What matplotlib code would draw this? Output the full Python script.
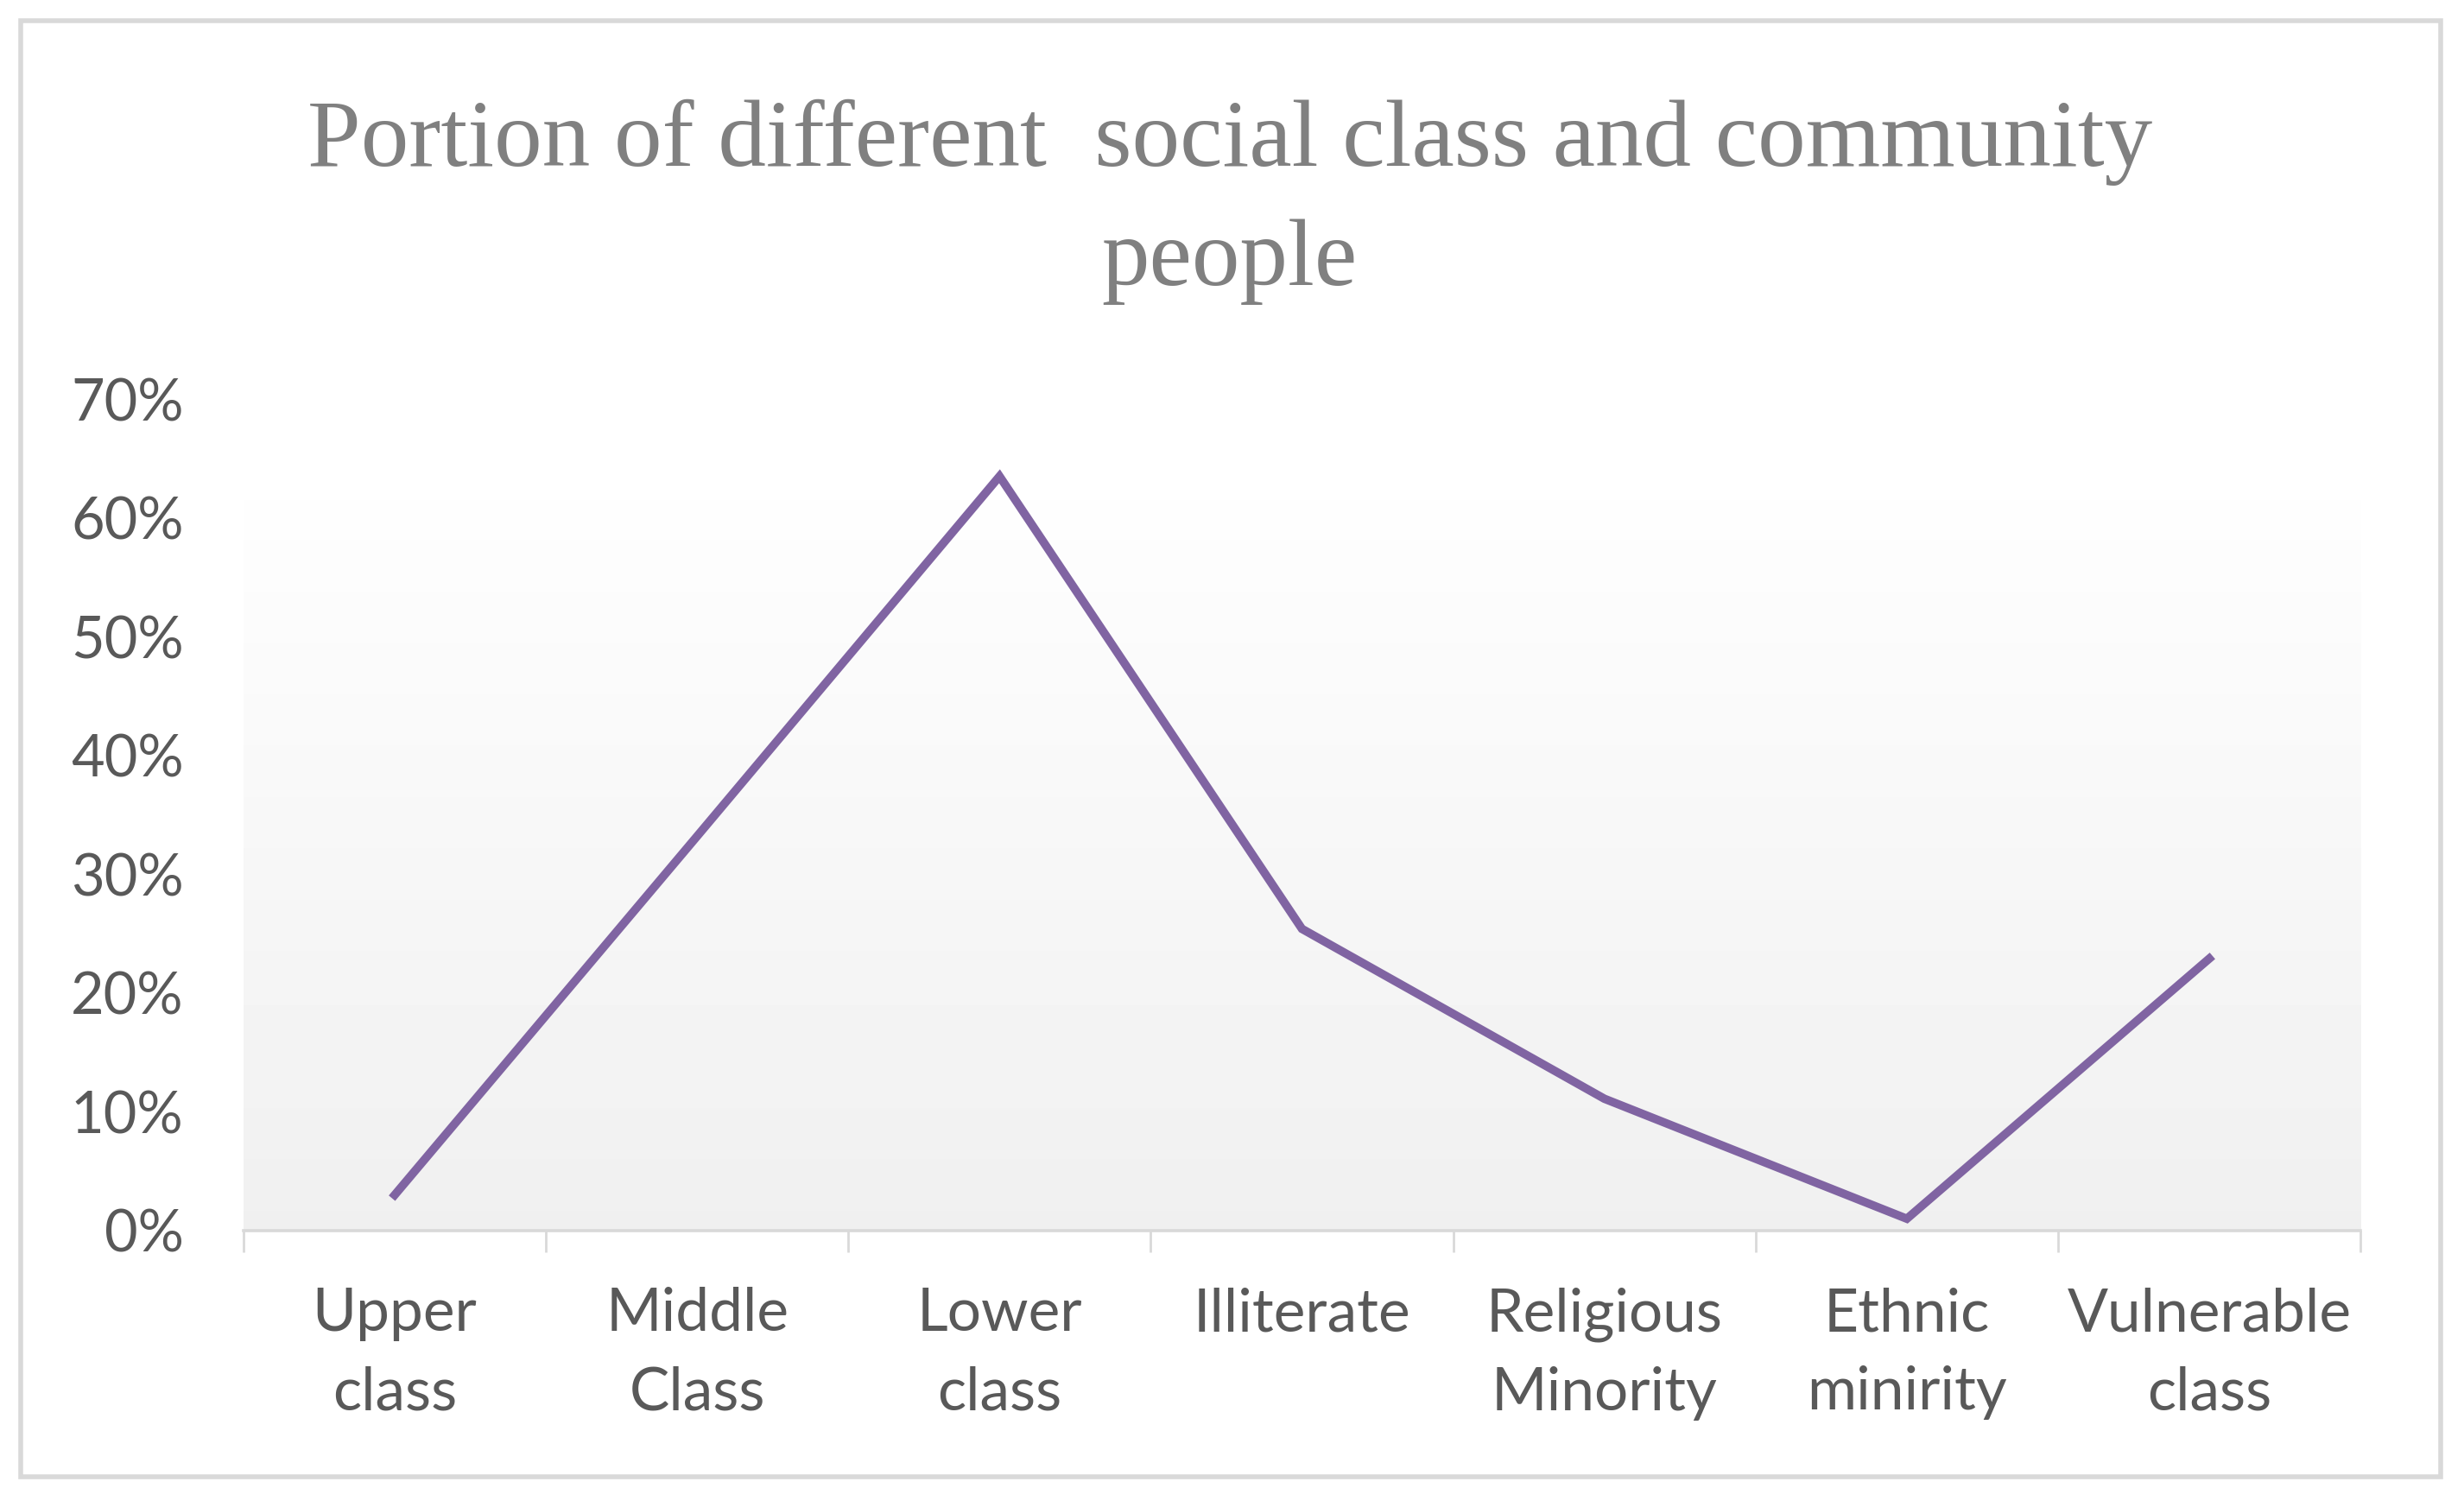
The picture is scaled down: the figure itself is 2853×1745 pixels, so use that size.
import numpy as np
import matplotlib
matplotlib.use("Agg")
import matplotlib.pyplot as plt
from matplotlib.patches import Rectangle
from matplotlib.ticker import FixedLocator, PercentFormatter

categories = ["Upper\nclass", "Middle\nClass", "Lower\nclass", "Illiterate",
              "Religious\nMinority", "Ethnic\nminirity", "Vulnerable\nclass"]
portion = [3.0, 33.2, 63.5, 25.4, 11.1, 1.0, 22.9]
yticks = [0, 10, 20, 30, 40, 50, 60, 70]

line_color = "#8064a2"
text_color = "#595959"
title_color = "#808080"
frame_color = "#d9d9d9"

fig = plt.figure(figsize=(28.53, 17.45), dpi=100)
fig.patch.set_facecolor("white")

# light grey outer frame like the Excel chart area
fig.patches.append(Rectangle((24 / 2853, 1 - 1710 / 1745), (2826 - 24) / 2853, (1710 - 24) / 1745,
                             transform=fig.transFigure, fill=False,
                             edgecolor=frame_color, linewidth=4))

ax = fig.add_axes([0.0988, 0.1834, 0.8592, 0.5518])
x = np.arange(len(categories))

# vertical gradient fill of the plot area
grad = np.linspace(0.94, 0.995, 256).reshape(-1, 1)
ax.imshow(grad, cmap="gray", vmin=0, vmax=1, aspect="auto", origin="lower",
          extent=(-0.5, 6.5, 0, 61.5), zorder=0)

ax.plot(x, portion, color=line_color, linewidth=7, solid_joinstyle="miter", zorder=3)

ax.set_xlim(-0.5, 6.5)
ax.set_ylim(0, 70)
ax.set_facecolor("none")
for s in ["top", "right", "left"]:
    ax.spines[s].set_visible(False)
ax.spines["bottom"].set_color(frame_color)
ax.spines["bottom"].set_linewidth(2.6)

ax.yaxis.set_major_locator(FixedLocator(yticks))
ax.yaxis.set_major_formatter(PercentFormatter(decimals=0))
ax.tick_params(axis="y", length=0, pad=50, labelsize=48, labelcolor=text_color)

ax.set_xticks(x)
ax.set_xticklabels(categories, fontfamily="Lato", fontsize=50, color=text_color,
                   linespacing=1.55)
ax.set_xticks(np.arange(-0.5, 7.0, 1.0), minor=True)
ax.tick_params(axis="x", which="major", length=0, pad=47)
ax.tick_params(axis="x", which="minor", length=18, width=2, color=frame_color)
for lab in ax.get_yticklabels():
    lab.set_fontfamily("Lato")

fig.text(0.499, 0.934, "Portion of different  social class and community\npeople",
         ha="center", va="top", fontfamily="Liberation Serif", fontsize=80,
         color=title_color, linespacing=1.5)

fig.savefig("out.png", dpi=100)
